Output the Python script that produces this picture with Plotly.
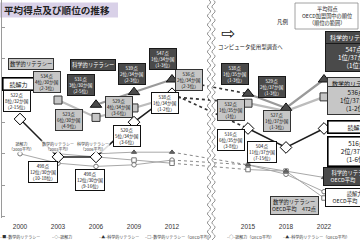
import numpy as np
import plotly.graph_objects as go

# ---------------- data ----------------
years = ["2000", "2003", "2006", "2009", "2012", "2015", "2018", "2022"]
axis_categories = ["2000", "2003", "2006", "2009", "2012", " ", "2015", "2018", "2022"]

reading = [522, 498, 498, 520, 538, 516, 504, 516]
math = [None, 534, 523, 529, 536, 532, 527, 536]
science = [None, None, 531, 539, 547, 538, 529, 547]

reading_oecd = [500, 494, 492, 493, 496, 493, 487, 476]
math_oecd = [None, 500, 498, 496, 494, 490, 489, 472]
science_oecd = [None, None, 500, 501, 501, 493, 489, 485]

reading_rank = ["8位/32か国", "12位/30か国", "12位/30か国", "5位/34か国", "1位/34か国",
                "6位/35か国", "11位/37か国", "2位/37か国"]
reading_range = ["2-15位", "10-18位", "9-16位", "3-6位", "1-2位", "3-8位", "7-15位", "1-6位"]
math_rank = [None, "4位/30か国", "6位/30か国", "4位/34か国", "2位/34か国",
             "1位/35か国", "1位/37か国", "1位/37か国"]
math_range = [None, "2-3位", "4-9位", "3-6位", "2-3位", "1位", "1-3位", "1-2位"]
science_rank = [None, None, "3位/30か国", "2位/34か国", "1位/34か国",
                "1位/35か国", "2位/37か国", "1位/37か国"]
science_range = [None, None, "2-5位", "2-3位", "1-3位", "1-3位", "1-3位", "1位"]

# ---------------- geometry helpers ----------------
W, H = 360, 240
L, R, T, B = 2, 0, 0, 22
PW, PH = W - L - R, H - T - B
FONT = "Noto Sans CJK JP"


def px(x):
    return (x - L) / PW


def py(y):
    return (T + PH - y) / PH


SCI_FILL, SCI_LINE = "#4a4a4a", "#9a9a9a"
MATH_FILL, MATH_LINE = "#c6c6c6", "#bcbcbc"
READ_LINE = "#1e1e1e"
OECD_LINE = "#a8a8a8"

fig = go.Figure()


def add_series(vals, color, width, symbol, mfill, mline, msize, dotcolor, dotwidth):
    pre_x, pre_y = years[:5], vals[:5]
    post_x, post_y = years[5:], vals[5:]
    fig.add_trace(go.Scatter(x=years[4:6], y=vals[4:6], mode="lines",
                             line=dict(color=dotcolor, width=dotwidth, dash="dot"),
                             hoverinfo="skip", showlegend=False))
    for xs, ys in ((pre_x, pre_y), (post_x, post_y)):
        fig.add_trace(go.Scatter(x=xs, y=ys, mode="lines+markers",
                                 line=dict(color=color, width=width),
                                 marker=dict(symbol=symbol, size=msize, color=mfill,
                                             line=dict(color=mline, width=1)),
                                 hoverinfo="skip", showlegend=False))


# OECD averages
add_series(reading_oecd, OECD_LINE, 1, "circle", "white", "#777", 4.5, "#888", 1)
add_series(math_oecd, OECD_LINE, 1, "square", "white", "#777", 4.5, "#888", 1)
add_series(science_oecd, OECD_LINE, 1, "triangle-up", "#666", "#555", 4.5, "#888", 1)
# Japan
add_series(math, MATH_LINE, 2.2, "square", MATH_FILL, "#333", 8, "#333", 1.6)
add_series(science, SCI_LINE, 2.2, "triangle-up", SCI_FILL, "#111", 10, "#333", 1.6)
add_series(reading, READ_LINE, 1.5, "diamond", "white", "#000", 9, "#333", 1.6)

# ---------------- boxes ----------------
STY = {
    "sci": dict(bg=SCI_FILL, fg="white", bc="#1a1a1a", bw=1),
    "math": dict(bg=MATH_FILL, fg="#111", bc="#333", bw=1),
    "read": dict(bg="white", fg="#111", bc="#111", bw=1),
    "readb": dict(bg="white", fg="#111", bc="#000", bw=1.6),
}
annotations = []


def text(t, x, y, size, color="#222", family=FONT, xanchor="center", bg=None):
    a = dict(text=t, x=px(x), y=py(y), xref="paper", yref="paper", xanchor=xanchor,
             yanchor="middle", showarrow=False, align="center",
             font=dict(family=family, size=size, color=color))
    if bg:
        a["bgcolor"] = bg
        a["borderpad"] = 0
    annotations.append(a)


def box(t, x, y, kind, size=5, anchor="center", width=None, pad=1):
    s = STY[kind]
    a = dict(text=t, x=px(x), y=py(y), xref="paper", yref="paper",
             xanchor=anchor, yanchor="middle", showarrow=False, align="center",
             font=dict(family=FONT, size=size, color=s["fg"]),
             bgcolor=s["bg"], bordercolor=s["bc"], borderwidth=s["bw"], borderpad=pad)
    if width:
        a["width"] = width
    annotations.append(a)


def label(score, rank, rng):
    return f"{score}点<br>{rank}<br>（{rng}）"


# headers (left)
box("数学的リテラシー", 31, 64, "math", 5.3)
box("科学的リテラシー", 93, 65, "sci", 5.3)
box("読解力", 18, 84, "readb", 6, width=28)

# per point boxes: index -> (cx, cy)
pos_read = {0: (17, 101), 1: (43, 172), 2: (90, 180), 3: (127, 136), 4: (165, 103),
            5: (231, 140), 6: (262, 152)}
pos_math = {1: (47, 82), 2: (69, 120), 3: (119, 107), 4: (189, 80), 5: (231, 110),
            6: (277, 121)}
pos_sci = {2: (81, 85), 3: (132, 74), 4: (163, 59), 5: (235, 74), 6: (272, 87)}

for i, (cx, cy) in pos_read.items():
    box(label(reading[i], reading_rank[i], reading_range[i]), cx, cy, "read", 4.6)
for i, (cx, cy) in pos_math.items():
    box(label(math[i], math_rank[i], math_range[i]), cx, cy, "math", 4.6)
for i, (cx, cy) in pos_sci.items():
    box(label(science[i], science_rank[i], science_range[i]), cx, cy, "sci", 4.6)

# right side (2022)
box("科学的リテラシー", 325, 37.5, "sci", 6, anchor="left", width=54)
box(label(science[7], science_rank[7], science_range[7]), 325, 58, "sci", 6.3,
    anchor="left", width=54)
box("数学的リテラシー", 327, 83, "math", 6, anchor="left", width=54)
box(label(math[7], math_rank[7], math_range[7]), 327, 100.5, "math", 6.3,
    anchor="left", width=54)
box("読解力", 327, 127, "readb", 6, anchor="left", width=54)
box(label(reading[7], reading_rank[7], reading_range[7]), 327, 151, "readb", 6.3,
    anchor="left", width=54)
box(f"科学的リテラシー<br>OECD平均　{science_oecd[7]}点", 323, 176, "sci", 5.3,
    anchor="left", width=56)
box(f"読解力<br>OECD平均　{reading_oecd[7]}点", 325, 197.5, "read", 5.3,
    anchor="left", width=56)
box(f"数学的リテラシー<br>OECD平均　{math_oecd[7]}点", 294, 205, "math", 5.3)

# OECD start labels
for t, x in (("読解力<br>（2000平均）", 21), ("数学的リテラシー<br>（2003平均）", 58),
             ("科学的リテラシー<br>（2006平均）", 93)):
    text(t, x, 146, 4, color="#333", bg="rgba(255,255,255,0.85)")

# title
text("<b>平均得点及び順位の推移</b>", 2, 10, 9.6, xanchor="left")
# legend (top right)
text("凡例", 282.5, 22, 5.5)
for t, y in (("平均得点", 9), ("OECD加盟国中の順位", 16), ("（順位の範囲）", 23)):
    text(t, 327, y, 5.2)
# arrow + note
text("⇨", 227.5, 33, 17, color="#111", family="DejaVu Sans")
text("コンピュータ使用型調査へ", 250, 47.5, 5.4)

# bottom legend
leg_items = [("–■–数学的リテラシー", -2), ("–◇–読解力", 50), ("–▲–科学的リテラシー", 97),
             ("–□–数学的リテラシー（OECD平均）", 143), ("–○–読解力（OECD平均）", 225),
             ("–▲–科学的リテラシー（OECD平均）", 281)]
for t, x in leg_items:
    text(t, x, 237, 4, color="#333", xanchor="left")

# ---------------- shapes ----------------
shapes = [dict(type="rect", xref="paper", yref="paper", x0=px(0), x1=px(118), y0=py(2.5),
               y1=py(17.5), fillcolor="#d9d1e8", line=dict(width=0), layer="below"),
          dict(type="rect", xref="paper", yref="paper", x0=px(295), x1=px(358), y0=py(3),
               y1=py(29), fillcolor="white", line=dict(color="#8c8c8c", width=0.8),
               layer="below")]

yy = np.arange(-6, 248, 1.0)


def wave(cx):
    return cx + 1.6 * np.sin(yy * 2 * np.pi / 9.0)


wl, wr = wave(209), wave(213.5)
band = "M " + " L ".join(f"{px(a):.5f},{py(b):.5f}" for a, b in zip(wl, yy))
band += " L " + " L ".join(f"{px(a):.5f},{py(b):.5f}" for a, b in zip(wr[::-1], yy[::-1])) + " Z"
shapes.append(dict(type="path", xref="paper", yref="paper", path=band, fillcolor="white",
                   line=dict(width=0)))
for w in (wl, wr):
    p = "M " + " L ".join(f"{px(a):.5f},{py(b):.5f}" for a, b in zip(w, yy))
    shapes.append(dict(type="path", xref="paper", yref="paper", path=p,
                       line=dict(color="#8a8a8a", width=0.9)))

fig.update_layout(
    width=W, height=H, margin=dict(l=L, r=R, t=T, b=B),
    paper_bgcolor="white", plot_bgcolor="white",
    showlegend=False, annotations=annotations, shapes=shapes,
    xaxis=dict(type="category", categoryorder="array", categoryarray=axis_categories,
               range=[-18 / 38, -18 / 38 + PW / 38], showgrid=False, zeroline=False,
               showline=False, ticks="", ticklabelstandoff=3,
               tickfont=dict(family="Liberation Sans", size=6.5, color="#333"),
               fixedrange=True),
    yaxis=dict(range=[522 - (PH - 119) / 1.58, 522 + 119 / 1.58], showgrid=False,
               zeroline=False, showline=True, linecolor="#9a9a9a", linewidth=1,
               ticks="inside", ticklen=3, tickcolor="#9a9a9a", dtick=20,
               showticklabels=False, fixedrange=True),
)

fig.write_html("out.html")
